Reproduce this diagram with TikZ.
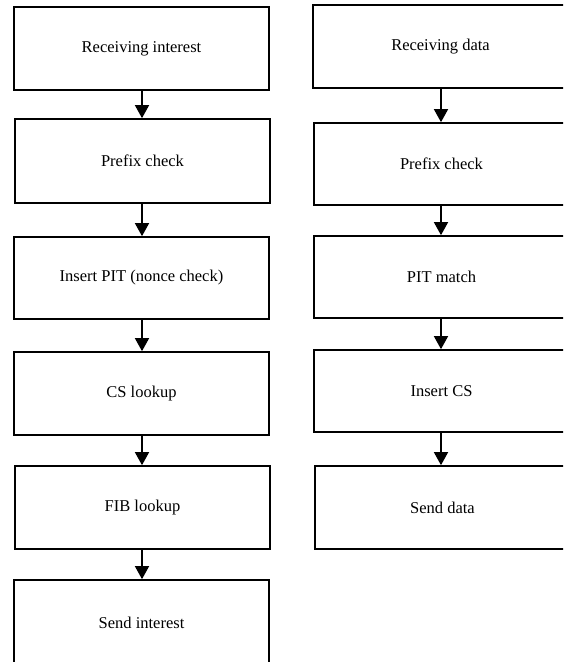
\documentclass[tikz,border=0pt]{standalone}
\usepackage{fontspec}
\setmainfont{Liberation Serif}
\usetikzlibrary{arrows.meta}
\begin{document}
\begin{tikzpicture}[x=1pt,y=-1pt,
  stepbox/.style={draw=black,line width=1.7pt,rectangle,inner sep=0pt,
    minimum width=255pt,font=\fontsize{16.5}{20}\selectfont},
  flow/.style={line width=1.6pt,-{Triangle[width=14pt,length=13pt]}}]
\useasboundingbox (0,0) rectangle (563,662);
\clip (0,0) rectangle (563,662);
% left column
\node[stepbox,minimum height=83pt] (l1) at (141.5,48.5) {Receiving interest};
\node[stepbox,minimum height=84pt] (l2) at (142.5,161) {Prefix check};
\node[stepbox,minimum height=82pt] (l3) at (141.5,278) {Insert PIT (nonce check)};
\node[stepbox,minimum height=83pt] (l4) at (141.5,393.5) {CS lookup};
\node[stepbox,minimum height=83pt] (l5) at (142.5,507.5) {FIB lookup};
\node[stepbox,minimum height=85pt] (l6) at (141.5,622.5) {Send interest};
% right column
\node[stepbox,minimum height=83pt] (r1) at (440.5,46.5) {Receiving data};
\node[stepbox,minimum height=82pt] (r2) at (441.5,164) {Prefix check};
\node[stepbox,minimum height=82pt] (r3) at (441.5,277) {PIT match};
\node[stepbox,minimum height=82pt] (r4) at (441.5,391) {Insert CS};
\node[stepbox,minimum height=83pt] (r5) at (442.5,507.5) {Send data};
% connectors
\draw[flow] (l1.south -| 142,0) -- (l2.north -| 142,0);
\draw[flow] (l2.south -| 142,0) -- (l3.north -| 142,0);
\draw[flow] (l3.south -| 142,0) -- (l4.north -| 142,0);
\draw[flow] (l4.south -| 142,0) -- (l5.north -| 142,0);
\draw[flow] (l5.south -| 142,0) -- (l6.north -| 142,0);
\draw[flow] (r1.south -| 441,0) -- (r2.north -| 441,0);
\draw[flow] (r2.south -| 441,0) -- (r3.north -| 441,0);
\draw[flow] (r3.south -| 441,0) -- (r4.north -| 441,0);
\draw[flow] (r4.south -| 441,0) -- (r5.north -| 441,0);
\end{tikzpicture}
\end{document}
